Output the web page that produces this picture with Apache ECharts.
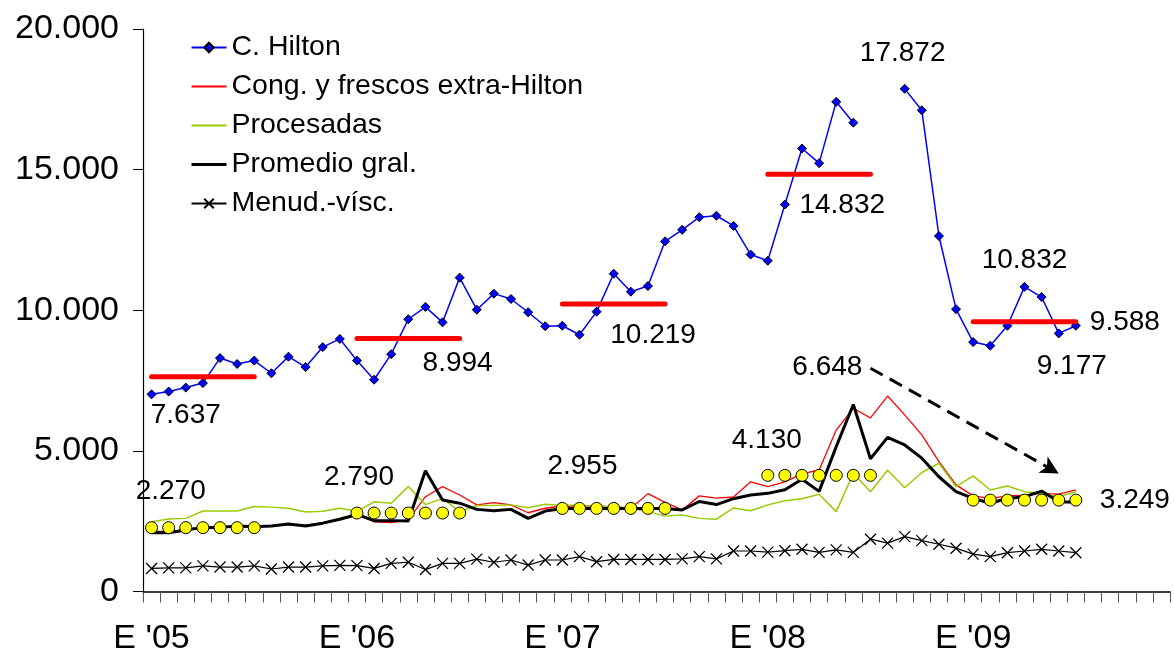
<!DOCTYPE html>
<html>
<head>
<meta charset="utf-8">
<script src="https://cdn.jsdelivr.net/npm/echarts@6/dist/echarts.min.js"></script>
<style>
html,body{margin:0;padding:0;background:#fff;}
#chart{width:1174px;height:657px;}
</style>
</head>
<body>
<div id="chart"></div>
<script>
// ---------- DATA ----------
const years = ['2005','2006','2007','2008','2009'];
const yearLabels = ["E '05", "E '06", "E '07", "E '08", "E '09"];
const seriesNames = ['C. Hilton', 'Cong. y frescos extra-Hilton', 'Procesadas', 'Promedio gral.', 'Menud.-vísc.'];

const hilton = [
  7010,7110,7250,7410,8300,8090,8210,7760,8350,7980,8690,8980,
  8210,7530,8440,9680,10120,9570,11160,10020,10590,10400,9930,9430,
  9450,9130,9950,11300,10660,10860,12450,12860,13310,13360,13000,11980,
  11760,13760,15750,15230,17410,16670,null,null,17872,17110,12640,10040,
  8870,8740,9450,10832,10470,9177,9450
];
const cong = [
  2150,2130,2200,2270,2290,2320,2310,2330,2380,2360,2440,2600,
  2720,2480,2450,2550,3370,3730,3430,3080,3160,3080,2800,2960,
  3040,3040,3040,3010,2960,3480,3170,2900,3400,3320,3360,3900,
  3730,3900,4180,4320,5740,6510,6170,6950,6280,5570,4620,3790,
  3400,3310,3400,3430,3490,3460,3610
];
const procesadas = [
  2480,2580,2600,2860,2860,2860,3020,3000,2960,2830,2850,2960,
  2850,3190,3140,3730,3090,3310,2840,3060,3060,3080,2980,3100,
  3060,3080,3010,3010,2960,2840,2680,2720,2600,2570,2970,2870,
  3080,3230,3300,3460,2840,4200,3550,4310,3690,4230,4560,3730,
  4110,3610,3750,3550,3490,3370,3550
];
const promedio = [
  2090,2090,2190,2280,2280,2330,2300,2330,2400,2330,2430,2570,
  2740,2520,2520,2510,4290,3250,3140,2920,2870,2920,2600,2860,
  2950,2950,2950,2950,2950,2950,2950,2900,3200,3090,3300,3430,
  3490,3620,3990,3560,5150,6648,4720,5480,5210,4740,4080,3550,
  3310,3140,3310,3370,3570,3190,3170
];
const menud = [
  820,840,840,910,870,870,910,800,870,870,910,930,
  920,820,1000,1040,780,1000,1000,1150,1040,1120,940,1120,
  1120,1240,1060,1140,1140,1140,1140,1160,1240,1160,1440,1440,
  1400,1450,1500,1390,1480,1390,1860,1720,1950,1810,1680,1540,
  1330,1240,1380,1440,1500,1440,1380
];
// Jan-Jul averages per year
const hiltonAvg = [7637, 8994, 10219, 14832, 9588];
const promedioAvg = [2270, 2790, 2955, 4130, 3249];
const avgMonths = 7;
// trend arrow (category index, value)
const trendArrow = [[42, 7940], [53, 4200]];
const yTicks = [0, 5000, 10000, 15000, 20000];

// ---------- BUILD ----------
const categories = [];
years.forEach(y => { for (let m = 1; m <= 12; m++) categories.push(y + '-' + (m < 10 ? '0' + m : m)); });

function fmt(v) { return String(Math.round(v)).replace(/\B(?=(\d{3})+(?!\d))/g, '.'); }

function avgSeriesData(avgs) {
  const d = new Array(categories.length).fill(null);
  avgs.forEach((v, yi) => { for (let k = 0; k < avgMonths; k++) d[yi * 12 + k] = v; });
  return d;
}

// annotation labels: [category index, value, dx, dy]
const annotations = [
  [2, hiltonAvg[0], 0, 39],
  [18, hiltonAvg[1], -2, 25],
  [30, hiltonAvg[2], -12, 31],
  [40, hiltonAvg[3], 6, 31],
  [44, hilton[44], -2, -36],
  [51, hilton[51], 0, -27],
  [54, hiltonAvg[4], 49, 0],
  [53, hilton[53], 13, 33],
  [1, promedioAvg[0], 2, -36],
  [12, promedioAvg[1], 2, -36],
  [25, promedioAvg[2], 3, -42],
  [36, promedioAvg[3], -1, -35],
  [41, promedio[41], -26, -37],
  [54, promedioAvg[4], 59, 0]
];

const FONT = "'Liberation Sans', Arial, sans-serif";
const xPath = 'path://M0,0L10,10M0,10L10,0';
const hiddenSym = {color: 'rgba(0,0,0,0)', borderColor: 'rgba(0,0,0,0)', borderWidth: 0, opacity: 0};

const chart = echarts.init(document.getElementById('chart'), null, {renderer: 'canvas'});
chart.setOption({
  animation: false,
  backgroundColor: '#fff',
  textStyle: {fontFamily: FONT},
  grid: {left: 143, right: 4, top: 29, bottom: 65.5},
  legend: {
    orient: 'vertical',
    left: 190, top: 33,
    padding: 0,
    itemGap: 10,
    itemWidth: 35, itemHeight: 12,
    data: [
      {name: seriesNames[0]},
      {name: seriesNames[1], itemStyle: hiddenSym},
      {name: seriesNames[2], itemStyle: hiddenSym},
      {name: seriesNames[3], itemStyle: hiddenSym, lineStyle: {width: 3}},
      {name: seriesNames[4]}
    ],
    textStyle: {fontSize: 28.5, color: '#000', fontFamily: FONT}
  },
  xAxis: {
    type: 'category',
    data: categories,
    boundaryGap: true,
    axisLine: {lineStyle: {color: '#000', width: 1.5}},
    axisTick: {show: true, interval: 0, length: 11, inside: false, lineStyle: {color: '#555', width: 1}},
    axisLabel: {
      interval: 11, margin: 30, fontSize: 34, color: '#000', fontFamily: FONT,
      formatter: (v, i) => yearLabels[Math.floor(i / 12)]
    },
    splitLine: {show: false}
  },
  yAxis: {
    type: 'value',
    min: yTicks[0], max: yTicks[yTicks.length - 1], interval: yTicks[1] - yTicks[0],
    axisLine: {show: true, lineStyle: {color: '#000', width: 1.2}},
    axisTick: {show: true, length: 10, lineStyle: {color: '#000'}},
    axisLabel: {margin: 24, fontSize: 34, color: '#000', fontFamily: FONT, formatter: v => fmt(v)},
    splitLine: {show: false}
  },
  series: [
    {
      name: seriesNames[0], type: 'line', data: hilton, connectNulls: false,
      symbol: 'diamond', symbolSize: 9, showAllSymbol: true,
      lineStyle: {color: '#0000FF', width: 1.5},
      itemStyle: {color: '#0000FF', borderColor: '#000', borderWidth: 1},
      z: 3
    },
    {
      name: seriesNames[1], type: 'line', data: cong, symbol: 'none',
      lineStyle: {color: '#FF0000', width: 1.3}, itemStyle: {color: '#FF0000'}, z: 2
    },
    {
      name: seriesNames[2], type: 'line', data: procesadas, symbol: 'none',
      lineStyle: {color: '#99CC00', width: 1.5}, itemStyle: {color: '#99CC00'}, z: 2
    },
    {
      name: seriesNames[3], type: 'line', data: promedio, symbol: 'none',
      lineStyle: {color: '#000', width: 3}, itemStyle: {color: '#000'}, z: 3,
      markLine: {
        silent: true, animation: false,
        symbol: ['none', 'arrow'], symbolSize: [14, 18],
        label: {show: false},
        lineStyle: {color: '#000', width: 3, type: [14, 8]},
        data: [[{coord: trendArrow[0]}, {coord: trendArrow[1]}]]
      }
    },
    {
      name: seriesNames[4], type: 'line', data: menud,
      symbol: xPath, symbolSize: 11, showAllSymbol: true,
      lineStyle: {color: '#000', width: 1.2},
      itemStyle: {color: '#000', borderColor: '#000', borderWidth: 1.3},
      z: 3
    },
    {
      name: 'hiltonAvg', type: 'line', data: avgSeriesData(hiltonAvg), connectNulls: false,
      symbol: 'none', lineStyle: {color: '#FF0000', width: 5, cap: 'round'}, z: 4,
      markPoint: {
        silent: true, animation: false,
        symbol: 'circle', symbolSize: 0,
        label: {show: true, position: 'inside', fontSize: 28, color: '#000', fontFamily: FONT,
                formatter: p => fmt(p.value)},
        data: annotations.map(a => ({coord: [a[0], a[1]], value: a[1], label: {offset: [a[2], a[3]]}}))
      }
    },
    {
      name: 'promedioAvg', type: 'scatter', data: avgSeriesData(promedioAvg),
      symbol: 'circle', symbolSize: 12,
      itemStyle: {color: '#FFFF00', borderColor: '#000', borderWidth: 1, opacity: 1}, z: 5
    }
  ]
});
</script>
</body>
</html>
